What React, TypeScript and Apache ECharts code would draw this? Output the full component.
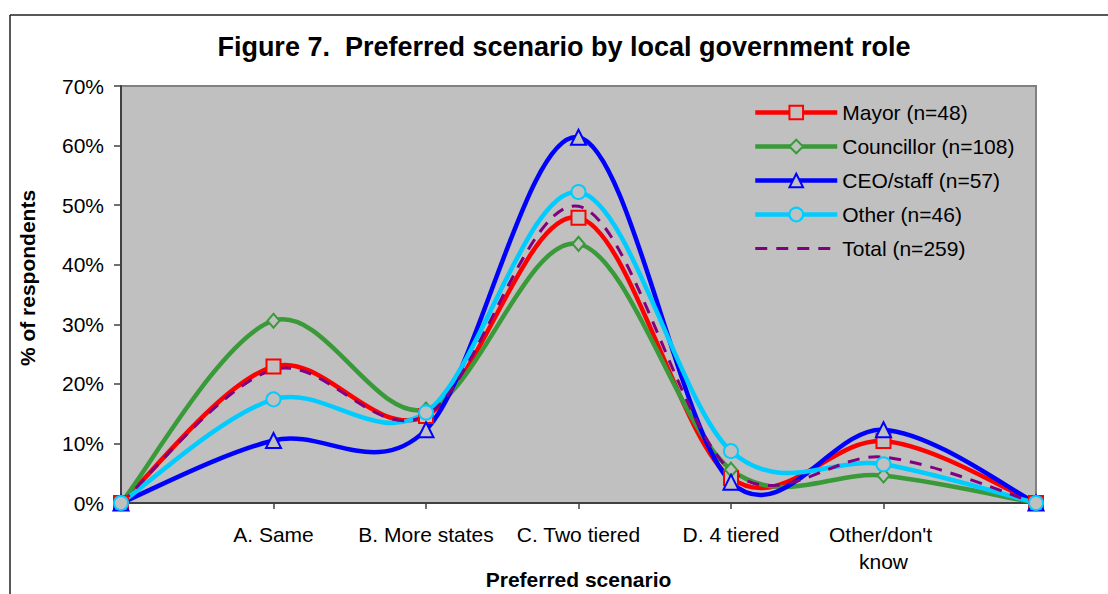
import React, { useEffect, useRef } from "react";
import * as echarts from "echarts";

// Category axis: the empty ends anchor each curve at zero on the plot edges
const categories = ["", "A. Same", "B. More states", "C. Two tiered", "D. 4 tiered", "Other/don't know", ""];

// Share of respondents (%) choosing each scenario, by role
const mayor = [0, 22.9, 14.6, 47.9, 4.2, 10.4, 0];
const councillor = [0, 30.6, 15.7, 43.5, 5.6, 4.6, 0];
const ceoStaff = [0, 10.5, 12.3, 61.4, 3.5, 12.3, 0];
const other = [0, 17.4, 15.2, 52.2, 8.7, 6.5, 0];
const total = [0, 22.4, 14.7, 49.8, 5.4, 7.7, 0];

const seriesNames = ["Mayor (n=48)", "Councillor (n=108)", "CEO/staff (n=57)", "Other (n=46)", "Total (n=259)"];
const yTicks = [0, 10, 20, 30, 40, 50, 60, 70];

const FONT = "'Liberation Sans', Arial, Helvetica, sans-serif";
const PLOT_BG = "#C0C0C0";

type Style = { color: string; width: number; dash?: number[] };

// Smoothed curve through the points: cubic Bezier segments whose handles
// follow the neighbouring points (Catmull-Rom, one sixth of the chord).
function curveSeries(name: string, values: number[], st: Style) {
  return {
    name,
    type: "custom",
    silent: true,
    z: 2,
    data: values.map((v, i) => [i, v]),
    encode: { x: 0, y: 1 },
    renderItem: (params: any, api: any) => {
      if (params.dataIndex !== 0) return null;
      const pts = values.map((v, i) => api.coord([i, v]));
      const n = pts.length;
      let d = `M${pts[0][0]},${pts[0][1]}`;
      for (let i = 0; i < n - 1; i++) {
        const p0 = pts[Math.max(i - 1, 0)];
        const p1 = pts[i];
        const p2 = pts[i + 1];
        const p3 = pts[Math.min(i + 2, n - 1)];
        const c1x = p1[0] + (p2[0] - p0[0]) / 6;
        const c1y = p1[1] + (p2[1] - p0[1]) / 6;
        const c2x = p2[0] - (p3[0] - p1[0]) / 6;
        const c2y = p2[1] - (p3[1] - p1[1]) / 6;
        d += ` C${c1x},${c1y} ${c2x},${c2y} ${p2[0]},${p2[1]}`;
      }
      return {
        type: "path",
        shape: { pathData: d },
        style: {
          fill: "none",
          stroke: st.color,
          lineWidth: st.width,
          lineDash: st.dash || null,
        },
      };
    },
  };
}

// Marker series: carries the symbols and the legend entry; its own line is hidden
function markerSeries(name: string, values: number[], st: Style, symbol: string, size: number | number[]) {
  return {
    name,
    type: "line",
    data: values,
    z: 3,
    smooth: false,
    symbol,
    symbolSize: size,
    showSymbol: symbol !== "none",
    lineStyle: { color: st.color, width: st.width, type: st.dash || "solid", opacity: 0 },
    itemStyle: { color: symbol === "none" ? st.color : PLOT_BG, borderColor: st.color, borderWidth: 2 },
    emphasis: { disabled: true },
    silent: true,
  };
}

const styles: Style[] = [
  { color: "#FF0000", width: 4.5 },
  { color: "#3A9A3A", width: 4.5 },
  { color: "#0000FF", width: 4.5 },
  { color: "#00CCFF", width: 4.5 },
  { color: "#800080", width: 3, dash: [12, 9] },
];
const allValues = [mayor, councillor, ceoStaff, other, total];
const symbols: [string, number | number[]][] = [
  ["rect", 14],
  ["diamond", [12, 14]],
  ["triangle", 15],
  ["circle", 14],
  ["none", 0],
];

export default function App() {
  const ref = useRef<HTMLDivElement>(null);

  useEffect(() => {
    if (!ref.current) return;
    const chart = echarts.init(ref.current, undefined, { renderer: "svg" });
    chart.setOption({
      animation: false,
      backgroundColor: "#FFFFFF",
      textStyle: { fontFamily: FONT, color: "#000" },
      title: {
        text: "Figure 7.  Preferred scenario by local government role",
        left: 559,
        top: 28,
        textAlign: "center",
        textStyle: { fontFamily: FONT, fontSize: 27, fontWeight: "bold", color: "#000" },
      },
      grid: {
        left: 121,
        top: 86,
        width: 915,
        height: 417,
        show: true,
        backgroundColor: PLOT_BG,
        borderColor: "#808080",
        borderWidth: 2,
        outerBoundsMode: "none",
        containLabel: false,
      },
      legend: {
        left: 753,
        top: 102,
        padding: 0,
        orient: "vertical",
        itemWidth: 82,
        itemHeight: 17,
        itemGap: 13,
        data: seriesNames.map((name, i) => ({
          name,
          lineStyle: { opacity: 1, width: styles[i].width },
          itemStyle: symbols[i][0] === "none" ? { opacity: 0 } : undefined,
        })),
        textStyle: { fontFamily: FONT, fontSize: 21, color: "#000" },
      },
      xAxis: {
        type: "category",
        data: categories,
        boundaryGap: false,
        name: "Preferred scenario",
        nameLocation: "middle",
        nameGap: 66,
        nameMoveOverlap: false,
        nameTextStyle: { fontFamily: FONT, fontSize: 21, fontWeight: "bold", color: "#000" },
        axisLine: { lineStyle: { color: "#404040", width: 2 } },
        axisTick: { show: true, length: 6, lineStyle: { color: "#404040", width: 1.5 } },
        axisLabel: {
          interval: 0,
          margin: 18,
          fontSize: 21,
          color: "#000",
          fontFamily: FONT,
          width: 150,
          overflow: "break",
          lineHeight: 27,
        },
        splitLine: { show: false },
      },
      yAxis: {
        type: "value",
        min: yTicks[0],
        max: yTicks[yTicks.length - 1],
        interval: 10,
        axisLine: { show: true, lineStyle: { color: "#404040", width: 2 } },
        axisTick: { show: true, length: 7, lineStyle: { color: "#404040", width: 1.5 } },
        axisLabel: { margin: 17, fontSize: 21, color: "#000", fontFamily: FONT, formatter: "{value}%" },
        splitLine: { show: false },
      },
      graphic: [
        { type: "line", shape: { x1: 10, y1: 15, x2: 1108, y2: 15 }, style: { stroke: "#202020", lineWidth: 1.5 } },
        { type: "line", shape: { x1: 10, y1: 15, x2: 10, y2: 594 }, style: { stroke: "#202020", lineWidth: 1.5 } },
        {
          type: "text",
          x: 27,
          y: 278,
          rotation: Math.PI / 2,
          style: {
            text: "% of respondents",
            font: `bold 21px ${FONT}`,
            fill: "#000",
            textAlign: "center",
            textVerticalAlign: "middle",
          },
        },
      ],
      series: [
        ...seriesNames.map((name, i) => markerSeries(name, allValues[i], styles[i], symbols[i][0], symbols[i][1])),
        ...seriesNames.map((name, i) => curveSeries(name, allValues[i], styles[i])),
      ],
    });
    return () => chart.dispose();
  }, []);

  return <div ref={ref} style={{ position: "fixed", left: 0, top: 0, width: 1108, height: 594 }} />;
}
